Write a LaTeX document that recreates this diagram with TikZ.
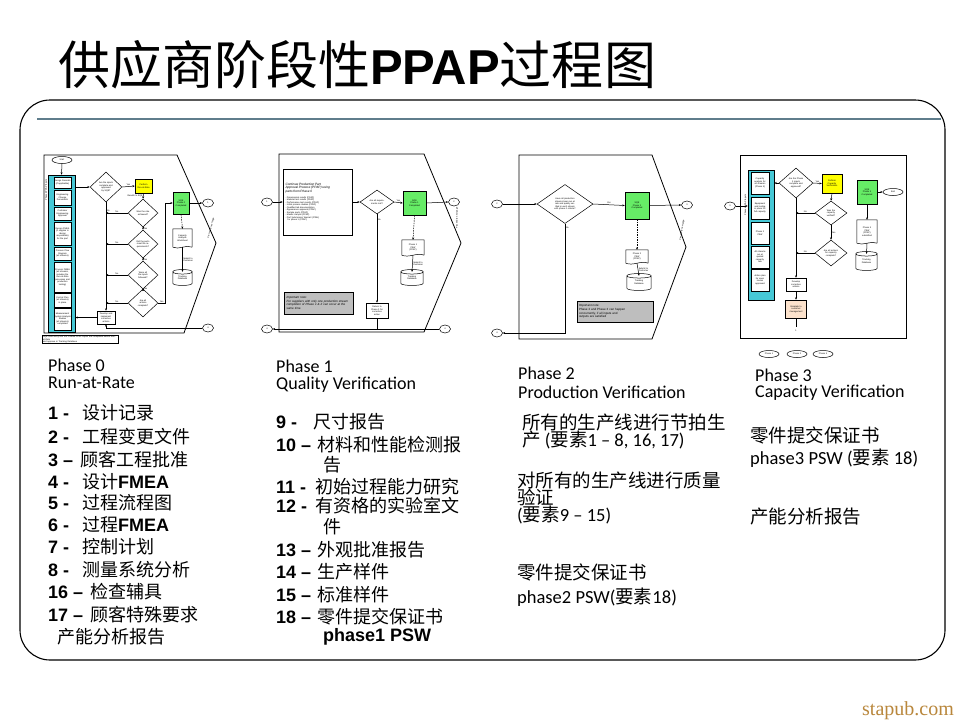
\documentclass[tikz,border=0pt]{standalone}
\usepackage{fontspec}
\setmainfont{Liberation Sans}
\newfontfamily\cjk{Noto Sans CJK SC}
\newfontfamily\calfont{Carlito}
\newfontfamily\lserif{Liberation Serif}
\usetikzlibrary{arrows.meta,shapes.geometric,calc}
\definecolor{yel}{RGB}{255,255,0}
\definecolor{grn}{RGB}{102,236,102}
\definecolor{org}{RGB}{252,226,204}
\definecolor{gryn}{RGB}{190,190,190}
\definecolor{cyanc}{RGB}{70,200,214}
\definecolor{bline}{RGB}{95,125,140}
\definecolor{wmark}{RGB}{185,135,60}
\newcommand\tyf{\fontsize{2.2}{2.5}\selectfont}
\newcommand\zh[1]{{\mdseries\cjk #1}}
% cylinder: name, x, y, w, h, text
\newcommand\cylnode[6]{%
  \node[inner sep=0, minimum width=#4, minimum height=#5, font=\tyf, align=center] (#1) at (#2,#3) {#6};
  \draw[bx] (#1.north west) -- (#1.south west) .. controls +(0,3) and +(0,3) .. (#1.south east) -- (#1.north east)
     .. controls +(0,3) and +(0,3) .. (#1.north west) .. controls +(0,-3) and +(0,-3) .. (#1.north east);}
% document: name, x, y, w, h, text
\newcommand\docnode[6]{%
  \node[inner sep=0.3pt, minimum width=#4, minimum height=#5, font=\tyf, align=center] (#1) at (#2,#3) {#6};
  \draw[bx] (#1.south east) -- (#1.north east) -- (#1.north west) -- (#1.south west)
     .. controls +(#4/3,3) and +(-#4/3,-3) .. (#1.south east);}
\begin{document}
\begin{tikzpicture}[x=1pt,y=-1pt,
  fr/.style={line width=0.8pt},
  bx/.style={line width=0.5pt},
  ar/.style={line width=0.5pt,-{Stealth[length=2.4pt,width=2pt]}},
  dar/.style={ar,dashed,dash pattern=on 1.5pt off 1pt},
  box/.style={draw,line width=0.5pt,inner sep=0.3pt,align=center,font=\tyf},
  dia/.style={diamond,draw,line width=0.5pt,inner sep=0pt,align=center,font=\tyf},
  term/.style={ellipse,draw,line width=0.5pt,inner sep=0pt,font=\tyf,minimum width=20,minimum height=7},
  conn/.style={ellipse,draw,line width=0.5pt,inner sep=0pt,font=\tyf,minimum width=11,minimum height=8},
  ib/.style={draw,fill=white,line width=0.4pt,inner sep=0.2pt,text width=17,align=center,font=\tyf},
  lab/.style={font=\tyf,inner sep=0.5pt},
  hd/.style={anchor=west,inner sep=0pt,font=\calfont\fontsize{18}{18}\selectfont},
  li/.style={anchor=west,inner sep=0pt,font=\bfseries\fontsize{18}{18}\selectfont},
  lc/.style={anchor=west,inner sep=0pt,font=\calfont\fontsize{18.5}{18}\selectfont}]
\useasboundingbox (0,0) rectangle (960,720);
\fill[white] (0,0) rectangle (960,720);

% title
\node[anchor=base west,inner sep=0pt,font=\fontsize{52}{52}\selectfont] (title) at (58,84)
  {{\cjk 供应商阶段性}{\bfseries\fontsize{49}{49}\selectfont PPAP}{\cjk 过程图}};
% frame
\draw[line width=1.1pt,rounded corners=30pt] (20,100) rectangle (945,660);
\draw[line width=2.6pt,bline] (37,119) -- (941,119);

%================ Thumbnail 1 (Phase 0)
\draw[fr] (44,155) -- (177,155) -- (216,243) -- (184,333) -- (44,333) -- cycle;
\node[term] (t1s) at (62,160) {Start};
\node[draw,fill=cyanc,line width=0.6pt,minimum width=27,minimum height=157,inner sep=0] (t1col) at (61.5,253.5) {};
\draw[ar] (t1s.south) -- (t1col.north);
\node[font=\tyf,rotate=90,inner sep=0] (t1lab) at (46.3,190) {Phased PPAP Inputs};
\node[ib,minimum height=11] (t1i1) at (62.5,182.5) {Design Records\\(if applicable)};
\node[ib,minimum height=15] (t1i2) at (62.5,197.5) {Engineering\\Change\\Documents};
\node[ib,minimum height=13] (t1i3) at (62.5,213.5) {Customer\\Engineering\\Approval};
\node[ib,minimum height=23] (t1i4) at (62.5,233.5) {Design FMEA\\(if supplier is\\design\\responsible)\\for the part};
\node[ib,minimum height=13] (t1i5) at (62.5,253.5) {Process Flow\\Diagram\\(all streams)};
\node[ib,minimum height=30] (t1i6) at (62.5,277) {Process FMEA\\(all streams,\\includes the\\Run-at-Rate\\processes and\\production\\tooling)};
\node[ib,minimum height=14] (t1i7) at (62.5,300) {Control Plan\\(all streams)\\in place};
\node[ib,minimum height=22] (t1i8) at (62.5,319) {Measurement\\System Analysis\\Studies\\(all streams)\\completed};
\node[dia,minimum width=32,minimum height=30,text width=16] (t1d1) at (106,187) {Are the inputs complete and approved by SQE?};
\draw[ar] (t1col.east |- t1d1) -- (t1d1.west);
\node[box,fill=yel,minimum width=17,minimum height=14,text width=15] (t1y) at (143.5,186) {Perform\\Run-at-Rate};
\draw[ar] (t1d1.east) -- node[lab,above]{Yes} (t1y.west);
\node[dia,minimum width=30,minimum height=28,text width=14] (t1d2) at (143,213) {Was the rate achieved?};
\node[dia,minimum width=30,minimum height=28,text width=14] (t1d3) at (143,244) {Did the parts meet the requirements?};
\node[dia,minimum width=30,minimum height=28,text width=14] (t1d4) at (143,275) {Were all the inputs followed?};
\node[dia,minimum width=30,minimum height=28,text width=14] (t1d5) at (143,303) {Are all actions complete?};
\draw[ar] (t1y.south) -- node[lab,left,pos=0.4]{Results to SQE} (t1d2.north);
\draw[ar] (t1d2.south) -- node[lab,right]{Yes} (t1d3.north);
\draw[ar] (t1d3.south) -- node[lab,right]{Yes} (t1d4.north);
\draw[ar] (t1d4.south) -- node[lab,right]{Yes} (t1d5.north);
\node[box,fill=white,minimum width=18,minimum height=13,text width=17] (t1b) at (106,317.5) {Develop and\\implement\\corrective actions};
\draw[ar] (t1d1.south) -- node[lab,right,pos=0.08]{No} (t1b.north);
\draw[ar] (t1d2.west) -- node[lab,above]{No} (t1d2.west -| t1b.north);
\draw[ar] (t1d3.west) -- node[lab,above]{No} (t1d3.west -| t1b.north);
\draw[ar] (t1d4.west) -- node[lab,above]{No} (t1d4.west -| t1b.north);
\draw[ar] (t1d5.west) -- node[lab,above]{No} (t1d5.west -| t1b.north);
\draw[ar] (t1b.west) -- (t1b.west -| t1col.east);
\node[box,fill=grn,minimum width=16,minimum height=22,text width=14] (t1g) at (181,203) {SQE\\Phase 0\\Completed};
\draw[ar] (t1d5.east) -- node[lab,above]{Yes} ++(7,0) |- (t1g.west);
\node[conn] (t1c1) at (208,203) {1};
\draw[ar] (t1g.east) -- (t1c1.west);
\node[conn] (t1c4) at (208,328) {4};
\draw[ar] (t1c4.west) -- (t1c4.west -| t1b.south) -- (t1b.south);
\docnode{t1doc}{182.5}{238}{19}{18}{Capacity\\Analysis\\Worksheet}
\draw[dar] (t1g.south) -- (t1doc.north);
\cylnode{t1cyl}{182.5}{277.5}{19}{11}{Tracking\\Database}
\draw[ar] (t1doc.south) -- node[lab,right,align=left]{Submit to\\Customer} (t1cyl.north);
\node[font=\tyf,rotate=75,inner sep=0] (t1pn) at (211,228) {Proceed to next page};
\node[draw,line width=0.5pt,minimum width=76,minimum height=7,text width=74,font=\tyf,inner sep=0.3pt,align=left] (t1note) at (80,339.5)
  {SQE shall verify that the Phased PPAP inputs are completed before Run-at-Rate\\ and approve in Tracking Database};

%================ Thumbnail 2 (Phase 1)
\draw[fr] (279,154) -- (424,154) -- (461,243) -- (424,332) -- (279,332) -- cycle;
\node[conn] (t2c1) at (267,202) {1};
\node[draw,line width=0.6pt,minimum width=69,minimum height=66,text width=64,inner sep=2pt,align=left,font=\tyf] (t2tb) at (317.5,202)
  {{\fontsize{3.2}{3.8}\selectfont\itshape Continue Production Part\\ Approval Process (PPAP) using\\ parts from Phase 0}\\[3pt]
   - Dimensional results (PPAP)\\ - Material test results (PPAP)\\ - Performance test results (PPAP)\\ - Initial process studies (PPAP)\\
   - Qualified lab documentation\\ - Appearance approval (PPAP)\\ - Sample parts (PPAP)\\ - Master sample (PPAP)\\ - Part Submission Warrant (PSW)\\ \quad for phase 1 (PPAP)};
\draw[ar] (t2c1.east) -- (t2tb.west |- t2c1);
\node[dia,minimum width=34,minimum height=24,text width=15] (t2d) at (377,202) {Are all requirements met?};
\draw[ar] (t2tb.east |- t2d) -- (t2d.west);
\node[box,fill=grn,minimum width=23,minimum height=24,text width=20] (t2g) at (414.5,203) {SQE\\Phase 1\\Completed};
\draw[ar] (t2d.east) -- node[lab,above]{Yes} (t2g.west);
\node[conn] (t2c2) at (454,202) {2};
\draw[ar] (t2g.east) -- (t2c2.west);
\docnode{t2doc}{413}{247.5}{22}{15}{Phase 1\\PSW\\(PPAP)}
\draw[dar] (t2g.south) -- (t2doc.north);
\cylnode{t2cyl}{412}{277.5}{22}{11}{Tracking\\Database}
\draw[ar] (t2doc.south) -- node[lab,right,align=left]{Submit to\\Customer} (t2cyl.north);
\node[box,fill=white,minimum width=22,minimum height=15,text width=20] (t2sb) at (377,310.5) {Return to\\Phase 0 for\\corrective\\action};
\draw[ar] (t2d.south) -- node[lab,right,pos=0.06]{No} (t2sb.north);
\node[conn] (t2c4l) at (267,329) {4};
\node[conn] (t2c4r) at (445,329) {4};
\draw[ar] (t2c4r.west) -- (t2c4l.east);
\draw[bx] (t2sb.south) -- (t2sb.south |- t2c4l);
\node[draw,fill=gryn,line width=0.5pt,minimum width=69,minimum height=22,text width=64,inner sep=1pt,align=left,font=\fontsize{3}{3.6}\selectfont\itshape] (t2note) at (318.5,303)
  {Important note:\\ For suppliers with only one production stream completion of Phase 1 \& 2 can occur at the same time.};
\node[font=\tyf,rotate=90,inner sep=0] (t2pn) at (457,218) {Proceed to next page};

%================ Thumbnail 3 (Phase 2)
\draw[fr] (519,155) -- (652,155) -- (686,247) -- (652,339) -- (519,339) -- cycle;
\node[conn] (t3c2) at (497,204) {2};
\node[dia,minimum width=56,minimum height=38,text width=27] (t3d) at (565,204) {Have all production streams been run at rate and quality verified in each stream with phase 0 criteria?};
\draw[ar] (t3c2.east) -- (t3d.west);
\node[box,fill=grn,minimum width=24,minimum height=27,text width=21] (t3g) at (637,205.5) {SQE\\Phase 2\\Completed};
\draw[ar] (t3d.east) -- node[lab,above]{Yes} (t3g.west);
\node[conn] (t3c3) at (687,205) {3};
\draw[ar] (t3g.east) -- (t3c3.west);
\docnode{t3doc}{637}{256.5}{22}{13}{Phase 2\\PSW\\(PPAP)}
\draw[dar] (t3g.south) -- (t3doc.north);
\cylnode{t3cyl}{639}{282}{24}{12}{Tracking\\Database}
\draw[ar] (t3doc.south) -- node[lab,right,align=left]{Submit to\\Customer} (t3cyl.north);
\node[draw,fill=gryn,line width=0.5pt,minimum width=76,minimum height=21,text width=72,inner sep=1pt,align=left,font=\fontsize{3}{3.6}\selectfont] (t3note) at (615,311.5)
  {Important note:\\ Phase 2 and Phase 3 can happen\\ concurrently, if all inputs and\\ outputs are satisfied};
\node[conn] (t3c4) at (497,333) {4};
\draw[ar] (t3d.south) -- node[lab,right,pos=0.04]{No} (t3d.south |- t3c4) -- (t3c4.east);
\node[font=\tyf,rotate=80,inner sep=0] (t3pn) at (682,230) {Proceed to next page};

%================ Thumbnail 4 (Phase 3)
\draw[fr] (740,155) rectangle (906,338);
\node[conn] (t4c3) at (730,206) {3};
\node[draw,fill=cyanc,line width=0.6pt,minimum width=26,minimum height=130,inner sep=0] (t4col) at (761,235) {};
\draw[ar] (t4c3.east) -- (t4c3.east -| t4col.west);
\node[font=\tyf,rotate=90,inner sep=0] (t4lab) at (745.5,205) {Phased PPAP Inputs};
\node[ib,minimum height=22] (t4i1) at (760,183) {Capacity\\analysis for\\all streams\\(Phase 3)};
\node[ib,minimum height=22] (t4i2) at (760,208) {Equipment\\and tooling\\in place for\\full capacity};
\node[ib,minimum height=22] (t4i3) at (760,233) {Phase 2\\PSW};
\node[ib,minimum height=22] (t4i4) at (760,257) {All streams\\run at\\quoted\\capacity\\rate};
\node[ib,minimum height=22] (t4i5) at (760,280) {Action plan\\for open\\issues\\approved};
\node[dia,minimum width=34,minimum height=30,text width=16] (t4d1) at (796,183) {Are the Phase 3 inputs complete and approved?};
\draw[ar] (t4d1.west) -- (t4d1.west -| t4col.east);
\node[box,fill=yel,minimum width=20,minimum height=19,text width=18] (t4y) at (832,183.5) {Perform\\Capacity\\Verification};
\draw[ar] (t4d1.east) -- node[lab,above]{Yes} (t4y.west);
\node[dia,minimum width=32,minimum height=24,text width=15] (t4d2) at (831,213) {Was the capacity verified?};
\node[dia,minimum width=32,minimum height=26,text width=15] (t4d3) at (831,253) {Are all actions for capacity complete?};
\draw[ar] (t4y.south) -- (t4d2.north);
\draw[ar] (t4d2.south) -- node[lab,right]{Yes} (t4d3.north);
\node[box,fill=white,minimum width=20,minimum height=13,text width=18] (t4b) at (796,284.5) {Develop\\corrective\\actions};
\draw[ar] (t4d1.south) -- (t4b.north);
\draw[ar] (t4d2.west) -- node[lab,above]{No} (t4d2.west -| t4b.north);
\draw[ar] (t4d3.west) -- node[lab,above]{No} (t4d3.west -| t4b.north);
\node[box,fill=org,minimum width=21,minimum height=18,text width=19] (t4o) at (796,309) {Escalate to\\customer\\management};
\draw[ar] (t4b.south) -- (t4o.north);
\coordinate (t4end) at (796,327);
\draw[bx] (t4o.south) -- (t4end);
\node[font=\tyf,inner sep=0] (t4one) at (796,331) {1};
\node[box,fill=grn,minimum width=20,minimum height=24,text width=18] (t4g) at (867,192) {SQE\\Phase 3\\Completed};
\node[term] (t4e) at (893,192) {End};
\draw[ar] (t4g.east) -- (t4e.west);
\docnode{t4doc}{867}{231.5}{20}{23}{Phase 3\\PSW\\(PPAP)\\submitted}
\draw[ar] (t4g.south) -- (t4doc.north);
\cylnode{t4cyl}{866.5}{261}{21}{14}{Tracking\\Database}
\draw[ar] (t4doc.south) -- (t4cyl.north);
\node[term] (t4p1) at (769,354) {Phase 1};
\node[term] (t4p2) at (797,354) {Phase 2};
\node[term] (t4p3) at (823,354) {Phase 3};

%================ Phase texts
\node[hd] (p0h) at (48,365) {Phase 0};
\node[hd] (p0s) at (48,383) {Run-at-Rate};
\node[li] (a1) at (48,413) {\makebox[34pt][l]{1 -}\zh{设计记录}};
\node[li] (a2) at (48,437) {\makebox[34pt][l]{2 -}\zh{工程变更文件}};
\node[li] (a3) at (48,460) {\makebox[32pt][l]{3 –}\zh{顾客工程批准}};
\node[li] (a4) at (48,482) {\makebox[34pt][l]{4 -}\zh{设计}FMEA};
\node[li] (a5) at (48,503) {\makebox[34pt][l]{5 -}\zh{过程流程图}};
\node[li] (a6) at (48,525) {\makebox[34pt][l]{6 -}\zh{过程}FMEA};
\node[li] (a7) at (48,547) {\makebox[34pt][l]{7 -}\zh{控制计划}};
\node[li] (a8) at (48,570) {\makebox[34pt][l]{8 -}\zh{测量系统分析}};
\node[li] (a16) at (48,592) {\makebox[42pt][l]{16 –}\zh{检查辅具}};
\node[li] (a17) at (48,615) {\makebox[42pt][l]{17 –}\zh{顾客特殊要求}};
\node[li] (a18) at (57,637) {\zh{产能分析报告}};

\node[hd] (p1h) at (276,366) {Phase 1};
\node[hd] (p1s) at (276,385) {Quality Verification};
\node[li] (b9) at (276,422) {\makebox[37pt][l]{9 -}\zh{尺寸报告}};
\node[li] (b10) at (276,445) {\makebox[41pt][l]{10 –}\zh{材料和性能检测报}};
\node[li] (b10b) at (323,465) {\zh{告}};
\node[li] (b11) at (276,487) {\makebox[39pt][l]{11 -}\zh{初始过程能力研究}};
\node[li] (b12) at (276,506) {\makebox[39pt][l]{12 -}\zh{有资格的实验室文}};
\node[li] (b12b) at (323,527) {\zh{件}};
\node[li] (b13) at (276,550) {\makebox[41pt][l]{13 –}\zh{外观批准报告}};
\node[li] (b14) at (276,572) {\makebox[41pt][l]{14 –}\zh{生产样件}};
\node[li] (b15) at (276,595) {\makebox[41pt][l]{15 –}\zh{标准样件}};
\node[li] (b18) at (276,617) {\makebox[41pt][l]{18 –}\zh{零件提交保证书}};
\node[li] (b18b) at (323,637) {phase1 PSW};

\node[hd] (p2h) at (518,373) {Phase 2};
\node[hd] (p2s) at (518,392) {Production Verification};
\node[lc] (c1) at (522,422) {\zh{所有的生产线进行节拍生}};
\node[lc] (c2) at (522,440) {\zh{产} (\zh{要素}1 – 8, 16, 17)};
\node[lc] (c3) at (517,480) {\zh{对所有的生产线进行质量}};
\node[lc] (c4) at (517,497) {\zh{验证}};
\node[lc] (c5) at (517,515) {(\zh{要素}9 – 15)};
\node[lc] (c6) at (517,572) {\zh{零件提交保证书}};
\node[lc] (c7) at (517,597) {phase2 PSW(\zh{要素}18)};

\node[hd] (p3h) at (755,375) {Phase 3};
\node[hd] (p3s) at (755,393) {Capacity Verification};
\node[lc] (d1) at (750,435) {\zh{零件提交保证书}};
\node[lc] (d2) at (750,458) {phase3 PSW (\zh{要素} 18)};
\node[lc] (d3) at (750,517) {\zh{产能分析报告}};

\node[anchor=base west,inner sep=0pt,text=wmark,font=\lserif\fontsize{20}{20}\selectfont] (wm) at (862,715) {stapub.com};
\end{tikzpicture}
\end{document}
